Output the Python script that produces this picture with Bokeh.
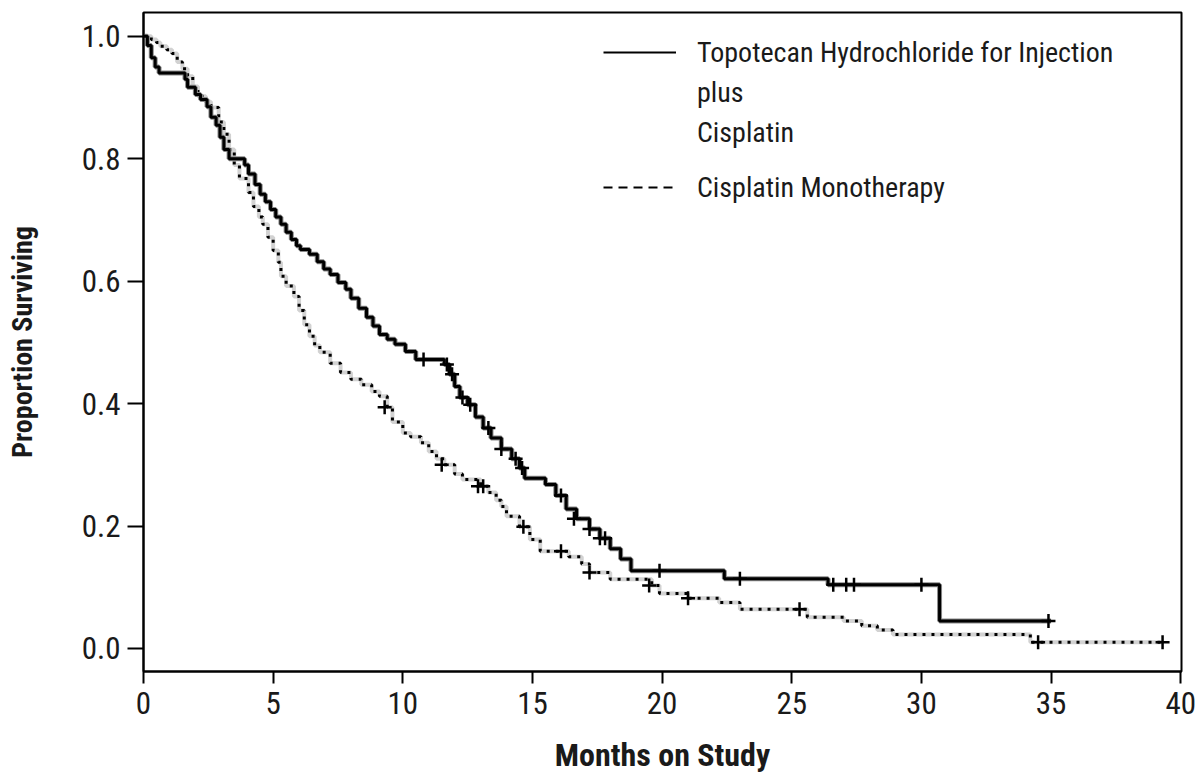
from bokeh.plotting import figure
from bokeh.models import Range1d, FixedTicker, Legend, LegendItem, NumeralTickFormatter
from bokeh.embed import file_html
from bokeh.resources import INLINE

FONT = "Roboto Condensed, Liberation Sans"
INK = "#1a1a1a"

# ---- axis ticks -------------------------------------------------------
x_ticks = [0, 5, 10, 15, 20, 25, 30, 35, 40]
y_ticks = [0.0, 0.2, 0.4, 0.6, 0.8, 1.0]

# ---- Topotecan + Cisplatin (solid) Kaplan-Meier steps ------------------
combo_months = [0, 0.15, 0.3, 0.45, 0.6, 1.6, 1.7, 2.0, 2.2, 2.45, 2.6, 2.8, 2.95,
                3.1, 3.3, 3.9, 4.05, 4.3, 4.5, 4.7, 4.9, 5.1, 5.3, 5.5, 5.7, 5.9,
                6.05, 6.4, 6.7, 6.95, 7.2, 7.5, 7.8, 8.0, 8.3, 8.6, 8.85, 9.1, 9.4,
                9.7, 10.1, 10.5, 11.6, 11.8, 12.0, 12.2, 12.5, 12.8, 13.1, 13.4,
                13.8, 14.2, 14.5, 14.7, 15.5, 15.9, 16.3, 16.7, 17.2, 17.6, 18.0,
                18.4, 18.8, 22.4, 26.4, 30.7, 35.0]
combo_surv = [1.0, 0.985, 0.965, 0.95, 0.94, 0.93, 0.917, 0.905, 0.897, 0.885, 0.868,
              0.855, 0.835, 0.815, 0.80, 0.79, 0.775, 0.758, 0.742, 0.73, 0.717,
              0.705, 0.693, 0.68, 0.668, 0.658, 0.652, 0.644, 0.632, 0.62, 0.611,
              0.598, 0.587, 0.572, 0.556, 0.541, 0.527, 0.513, 0.505, 0.497, 0.485,
              0.472, 0.464, 0.448, 0.428, 0.41, 0.398, 0.378, 0.36, 0.344, 0.326,
              0.31, 0.295, 0.278, 0.268, 0.25, 0.228, 0.212, 0.195, 0.18, 0.163,
              0.146, 0.127, 0.114, 0.104, 0.045, 0.045]
combo_censor_months = [10.8, 11.7, 11.9, 12.3, 12.6, 13.3, 13.8, 14.35, 14.6, 16.1,
                       16.6, 17.2, 17.6, 17.8, 19.9, 23.0, 26.6, 27.1, 27.4, 30.0, 34.9]
combo_censor_surv = [0.472, 0.464, 0.448, 0.41, 0.398, 0.36, 0.326, 0.31, 0.295, 0.25,
                     0.212, 0.195, 0.18, 0.18, 0.127, 0.114, 0.104, 0.104, 0.104,
                     0.104, 0.045]

# ---- Cisplatin monotherapy (dashed) Kaplan-Meier steps ----------------
mono_months = [0, 0.3, 0.5, 0.65, 0.9, 1.1, 1.3, 1.5, 1.7, 1.9, 2.1, 2.4, 2.6, 2.9,
               3.1, 3.3, 3.5, 3.7, 4.05, 4.24, 4.45, 4.6, 4.8, 5.0, 5.2, 5.3, 5.5,
               5.8, 6.0, 6.2, 6.4, 6.6, 6.8, 7.2, 7.6, 8.0, 8.4, 8.8, 9.1, 9.4, 9.6,
               10.0, 10.3, 10.7, 11.0, 11.3, 11.6, 12.0, 12.3, 13.0, 13.3, 13.6,
               13.8, 14.0, 14.5, 14.9, 15.3, 16.4, 16.9, 17.2, 18.0, 19.6, 19.9,
               21.0, 22.2, 23.0, 25.6, 27.0, 27.7, 28.3, 28.9, 34.2, 39.3]
mono_surv = [1.0, 0.995, 0.99, 0.984, 0.978, 0.972, 0.958, 0.947, 0.935, 0.918, 0.902,
             0.893, 0.884, 0.86, 0.84, 0.815, 0.79, 0.768, 0.745, 0.722, 0.705, 0.693,
             0.672, 0.65, 0.631, 0.608, 0.592, 0.575, 0.552, 0.529, 0.51, 0.495,
             0.484, 0.466, 0.451, 0.44, 0.431, 0.42, 0.412, 0.394, 0.37, 0.352,
             0.346, 0.336, 0.322, 0.31, 0.30, 0.285, 0.276, 0.265, 0.255, 0.242,
             0.232, 0.216, 0.199, 0.178, 0.159, 0.15, 0.138, 0.124, 0.113, 0.103,
             0.09, 0.082, 0.075, 0.064, 0.051, 0.045, 0.037, 0.03, 0.023, 0.01, 0.01]
mono_censor_months = [9.3, 11.5, 12.9, 13.1, 14.65, 16.1, 17.2, 19.5, 21.0, 25.3, 34.5, 39.3]
mono_censor_surv = [0.394, 0.30, 0.265, 0.265, 0.199, 0.159, 0.124, 0.103, 0.082,
                    0.064, 0.01, 0.01]

# ---- legend text -------------------------------------------------------
legend_combo_lines = ["Topotecan Hydrochloride for Injection", "plus", "Cisplatin"]
legend_mono = "Cisplatin Monotherapy"

p = figure(width=1199, height=778, output_backend="svg", toolbar_location=None,
           x_range=Range1d(0, 40.03), y_range=Range1d(-0.0376, 1.039),
           min_border_left=143, min_border_right=18, min_border_top=12,
           min_border_bottom=107, background_fill_color="white",
           border_fill_color="white")
p.xgrid.visible = False
p.ygrid.visible = False
p.outline_line_color = "black"
p.outline_line_width = 2
p.outline_line_alpha = 1

# dashed (monotherapy) curve: light grey base with black dashes
p.step(mono_months, mono_surv, mode="after", line_color="#d2d2d2", line_width=4)
p.step(mono_months, mono_surv, mode="after", line_color="black", line_width=3,
       line_dash="3 6")
p.scatter(mono_censor_months, mono_censor_surv, marker="cross", size=14,
          line_color="black", line_width=2.5)

# solid (combination) curve
p.step(combo_months, combo_surv, mode="after", line_color="#8a8a8a", line_width=5)
p.step(combo_months, combo_surv, mode="after", line_color="black", line_width=3)
p.scatter(combo_censor_months, combo_censor_surv, marker="cross", size=14,
          line_color="black", line_width=2.5)

# legend proxies (a single point each, so nothing is drawn in the plot)
leg_solid = p.line(x=combo_months[:1], y=combo_surv[:1], line_color="black",
                   line_width=2)
leg_dash = p.line(x=mono_months[:1], y=mono_surv[:1], line_color="black",
                  line_width=2, line_dash="9 6")
leg_blank = p.line(x=mono_months[:1], y=mono_surv[:1], line_alpha=0)


def make_legend(items, loc):
    lg = Legend(items=items, location=loc, orientation="vertical",
                glyph_width=73, glyph_height=40, label_height=40,
                label_standoff=21, spacing=0, padding=0, margin=0,
                border_line_alpha=0, background_fill_alpha=0,
                label_text_font=FONT, label_text_font_size="28px",
                label_text_color=INK)
    p.add_layout(lg)
    return lg


make_legend([LegendItem(label=legend_combo_lines[0], renderers=[leg_solid]),
             LegendItem(label=legend_combo_lines[1], renderers=[leg_blank]),
             LegendItem(label=legend_combo_lines[2], renderers=[leg_blank])],
            (460, 519))
make_legend([LegendItem(label=legend_mono, renderers=[leg_dash])], (460, 464))

# axes
p.xaxis.ticker = FixedTicker(ticks=x_ticks)
p.yaxis.ticker = FixedTicker(ticks=y_ticks)
p.yaxis.formatter = NumeralTickFormatter(format="0.0")
for ax in (p.xaxis, p.yaxis):
    ax.axis_line_width = 2
    ax.axis_line_color = "black"
    ax.major_tick_line_width = 2
    ax.major_tick_line_color = "black"
    ax.major_tick_in = 0
    ax.minor_tick_line_color = None
    ax.major_label_text_font = FONT
    ax.major_label_text_font_size = "31px"
    ax.major_label_text_color = INK
    ax.axis_label_text_font = FONT
    ax.axis_label_text_font_style = "bold"
    ax.axis_label_text_color = INK
p.yaxis.major_tick_out = 16
p.xaxis.major_tick_out = 12
p.yaxis.major_label_standoff = 7
p.xaxis.major_label_standoff = 8
p.xaxis.axis_label = "Months on Study"
p.yaxis.axis_label = "Proportion Surviving"
p.xaxis.axis_label_text_font_size = "32px"
p.yaxis.axis_label_text_font_size = "28px"
p.yaxis.axis_label_standoff = 40
p.xaxis.axis_label_standoff = 19

open("out.html", "w").write(file_html(p, INLINE))
